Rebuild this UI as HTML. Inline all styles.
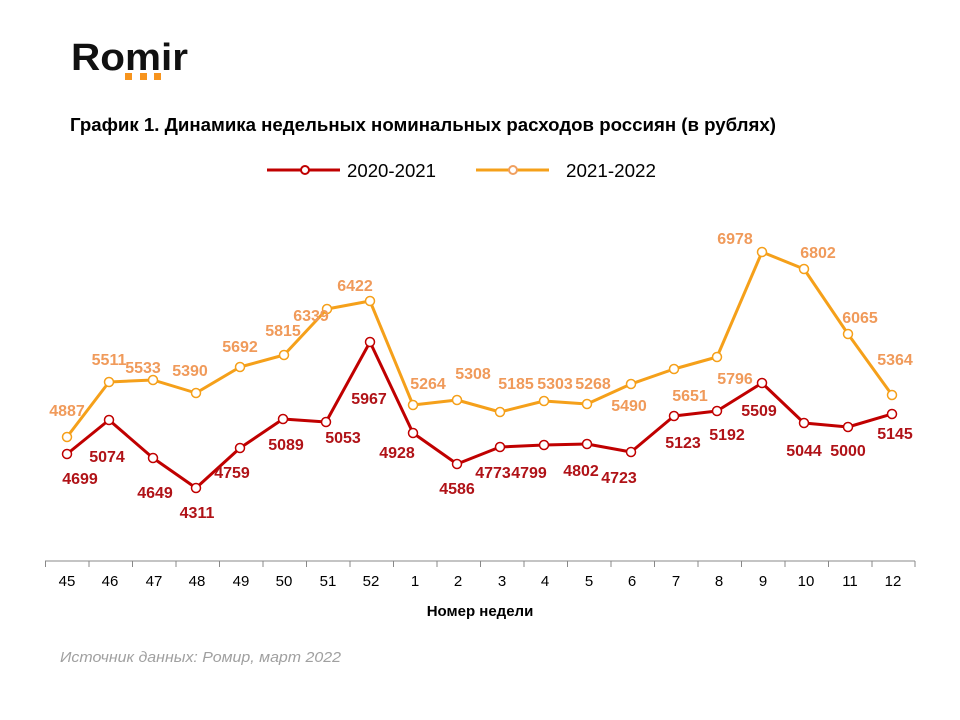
<!DOCTYPE html>
<html><head><meta charset="utf-8"><style>
html,body{margin:0;padding:0;background:#fff;}
svg{display:block;}
text{font-family:"Liberation Sans",Arial,sans-serif;}
</style></head><body>
<svg width="960" height="720" viewBox="0 0 960 720" xmlns="http://www.w3.org/2000/svg">
<rect width="960" height="720" fill="#fff"/>
<!-- Logo -->
<text x="71" y="70" font-size="38" font-weight="bold" fill="#111" textLength="117" lengthAdjust="spacingAndGlyphs">Romir</text>
<rect x="125" y="73" width="7" height="7" fill="#F7941D"/>
<rect x="140" y="73" width="7" height="7" fill="#F7941D"/>
<rect x="154" y="73" width="7" height="7" fill="#F7941D"/>
<!-- Title -->
<text x="70" y="131" font-size="18" font-weight="bold" fill="#000" textLength="706" lengthAdjust="spacingAndGlyphs">График 1. Динамика недельных номинальных расходов россиян (в рублях)</text>
<!-- Legend -->
<line x1="267" y1="170" x2="340" y2="170" stroke="#C00000" stroke-width="3"/>
<circle cx="305" cy="170" r="4" fill="#fff" stroke="#C00000" stroke-width="2"/>
<text x="347" y="177" font-size="18" fill="#000" textLength="89" lengthAdjust="spacingAndGlyphs">2020-2021</text>
<line x1="476" y1="170" x2="549" y2="170" stroke="#F5A01A" stroke-width="3"/>
<circle cx="513" cy="170" r="4" fill="#fff" stroke="#F0A060" stroke-width="2"/>
<text x="566" y="177" font-size="18" fill="#000" textLength="90" lengthAdjust="spacingAndGlyphs">2021-2022</text>
<!-- Axis -->
<line x1="45" y1="561" x2="915" y2="561" stroke="#888" stroke-width="1"/>
<g stroke="#888" stroke-width="1">
<line x1="45.5" y1="561" x2="45.5" y2="567"/><line x1="89" y1="561" x2="89" y2="567"/><line x1="132.5" y1="561" x2="132.5" y2="567"/><line x1="176" y1="561" x2="176" y2="567"/><line x1="219.5" y1="561" x2="219.5" y2="567"/><line x1="263" y1="561" x2="263" y2="567"/><line x1="306.5" y1="561" x2="306.5" y2="567"/><line x1="350" y1="561" x2="350" y2="567"/><line x1="393.5" y1="561" x2="393.5" y2="567"/><line x1="437" y1="561" x2="437" y2="567"/><line x1="480.5" y1="561" x2="480.5" y2="567"/><line x1="524" y1="561" x2="524" y2="567"/><line x1="567.5" y1="561" x2="567.5" y2="567"/><line x1="611" y1="561" x2="611" y2="567"/><line x1="654.5" y1="561" x2="654.5" y2="567"/><line x1="698" y1="561" x2="698" y2="567"/><line x1="741.5" y1="561" x2="741.5" y2="567"/><line x1="785" y1="561" x2="785" y2="567"/><line x1="828.5" y1="561" x2="828.5" y2="567"/><line x1="872" y1="561" x2="872" y2="567"/><line x1="915" y1="561" x2="915" y2="567"/>
</g>
<g font-size="15" fill="#000" text-anchor="middle">
<text x="67" y="586">45</text><text x="110" y="586">46</text><text x="154" y="586">47</text><text x="197" y="586">48</text><text x="241" y="586">49</text><text x="284" y="586">50</text><text x="328" y="586">51</text><text x="371" y="586">52</text><text x="415" y="586">1</text><text x="458" y="586">2</text><text x="502" y="586">3</text><text x="545" y="586">4</text><text x="589" y="586">5</text><text x="632" y="586">6</text><text x="676" y="586">7</text><text x="719" y="586">8</text><text x="763" y="586">9</text><text x="806" y="586">10</text><text x="850" y="586">11</text><text x="893" y="586">12</text>
</g>
<text x="480" y="616" font-size="15" font-weight="bold" fill="#000" text-anchor="middle">Номер недели</text>
<text x="60" y="662" font-size="15" font-style="italic" fill="#A0A0A0" textLength="281" lengthAdjust="spacingAndGlyphs">Источник данных: Ромир, март 2022</text>
<!-- Orange series -->
<polyline fill="none" stroke="#F5A01A" stroke-width="3" stroke-linejoin="round" points="67,437 109,382 153,380 196,393 240,367 284,355 327,309 370,301 413,405 457,400 500,412 544,401 587,404 631,384 674,369 717,357 762,252 804,269 848,334 892,395"/>
<g fill="#fff" stroke="#F5A01A" stroke-width="1.5">
<circle cx="67" cy="437" r="4.5"/><circle cx="109" cy="382" r="4.5"/><circle cx="153" cy="380" r="4.5"/><circle cx="196" cy="393" r="4.5"/><circle cx="240" cy="367" r="4.5"/><circle cx="284" cy="355" r="4.5"/><circle cx="327" cy="309" r="4.5"/><circle cx="370" cy="301" r="4.5"/><circle cx="413" cy="405" r="4.5"/><circle cx="457" cy="400" r="4.5"/><circle cx="500" cy="412" r="4.5"/><circle cx="544" cy="401" r="4.5"/><circle cx="587" cy="404" r="4.5"/><circle cx="631" cy="384" r="4.5"/><circle cx="674" cy="369" r="4.5"/><circle cx="717" cy="357" r="4.5"/><circle cx="762" cy="252" r="4.5"/><circle cx="804" cy="269" r="4.5"/><circle cx="848" cy="334" r="4.5"/><circle cx="892" cy="395" r="4.5"/>
</g>
<!-- Red series -->
<polyline fill="none" stroke="#C00000" stroke-width="3" stroke-linejoin="round" points="67,454 109,420 153,458 196,488 240,448 283,419 326,422 370,342 413,433 457,464 500,447 544,445 587,444 631,452 674,416 717,411 762,383 804,423 848,427 892,414"/>
<g fill="#fff" stroke="#C00000" stroke-width="1.5">
<circle cx="67" cy="454" r="4.5"/><circle cx="109" cy="420" r="4.5"/><circle cx="153" cy="458" r="4.5"/><circle cx="196" cy="488" r="4.5"/><circle cx="240" cy="448" r="4.5"/><circle cx="283" cy="419" r="4.5"/><circle cx="326" cy="422" r="4.5"/><circle cx="370" cy="342" r="4.5"/><circle cx="413" cy="433" r="4.5"/><circle cx="457" cy="464" r="4.5"/><circle cx="500" cy="447" r="4.5"/><circle cx="544" cy="445" r="4.5"/><circle cx="587" cy="444" r="4.5"/><circle cx="631" cy="452" r="4.5"/><circle cx="674" cy="416" r="4.5"/><circle cx="717" cy="411" r="4.5"/><circle cx="762" cy="383" r="4.5"/><circle cx="804" cy="423" r="4.5"/><circle cx="848" cy="427" r="4.5"/><circle cx="892" cy="414" r="4.5"/>
</g>
<!-- Orange labels -->
<g font-size="16" font-weight="bold" fill="#F09A5A" text-anchor="middle">
<text x="67" y="416">4887</text><text x="109" y="365">5511</text><text x="143" y="373">5533</text><text x="190" y="376">5390</text><text x="240" y="352">5692</text><text x="283" y="336">5815</text><text x="311" y="321">6339</text><text x="355" y="291">6422</text><text x="428" y="389">5264</text><text x="473" y="379">5308</text><text x="516" y="389">5185</text><text x="555" y="389">5303</text><text x="593" y="389">5268</text><text x="629" y="411">5490</text><text x="690" y="401">5651</text><text x="735" y="384">5796</text><text x="735" y="244">6978</text><text x="818" y="258">6802</text><text x="860" y="323">6065</text><text x="895" y="365">5364</text>
</g>
<!-- Red labels -->
<g font-size="16" font-weight="bold" fill="#B01217" text-anchor="middle">
<text x="80" y="484">4699</text><text x="107" y="462">5074</text><text x="155" y="498">4649</text><text x="197" y="518">4311</text><text x="232" y="478">4759</text><text x="286" y="450">5089</text><text x="343" y="443">5053</text><text x="369" y="404">5967</text><text x="397" y="458">4928</text><text x="457" y="494">4586</text><text x="493" y="478">4773</text><text x="529" y="478">4799</text><text x="581" y="476">4802</text><text x="619" y="483">4723</text><text x="683" y="448">5123</text><text x="727" y="440">5192</text><text x="759" y="416">5509</text><text x="804" y="456">5044</text><text x="848" y="456">5000</text><text x="895" y="439">5145</text>
</g>
</svg>
</body></html>
